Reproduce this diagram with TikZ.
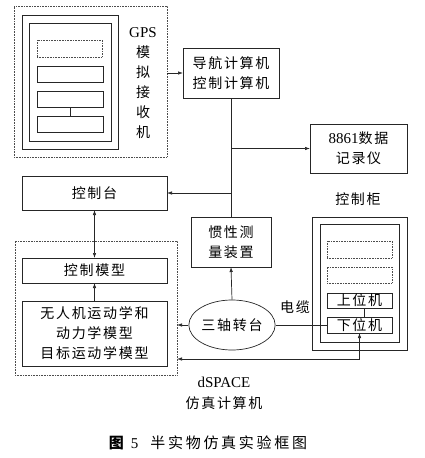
\documentclass[tikz,border=0pt]{standalone}
\usepackage{fontspec}
\setmainfont{Liberation Serif}
\newfontfamily\cjk[LetterSpace=12]{Noto Sans CJK SC}
\newfontfamily\cjkcap[LetterSpace=18]{Noto Sans CJK SC}
\usetikzlibrary{arrows.meta,shapes.geometric}
\begin{document}
\begin{tikzpicture}[x=1pt,y=-1pt,
  ln/.style={line width=0.7pt,draw=black!85},
  box/.style={ln,rectangle,inner sep=0pt,outer sep=0pt,align=center,
     font=\cjk\fontsize{14}{20}\selectfont},
  dbox/.style={draw=black!70,densely dotted,line width=0.6pt,rectangle,inner sep=0pt,outer sep=0pt},
  sz/.style n args={2}{minimum width=#1pt,minimum height=#2pt},
  arr/.style={ln,-{Latex[length=5pt,width=3.5pt]}},
  darr/.style={ln,{Latex[length=5pt,width=3.5pt]}-{Latex[length=5pt,width=3.5pt]}},
  lbl/.style={align=center,inner sep=0pt,font=\cjk\fontsize{14}{20}\selectfont}]
\useasboundingbox (0,0) rectangle (424,458);
% GPS receiver
\node[dbox,sz={153}{151}] (gpsouter) at (90.5,81.5) {};
\node[box,sz={96}{134}] (gps1) at (70,82) {};
\node[box,sz={82}{118}] (gps2) at (70,82) {};
\node[dbox,sz={65}{17}] (gpsd) at (69.5,48.5) {};
\node[box,sz={66}{16}] (gpsa) at (70,74) {};
\node[box,sz={66}{16}] (gpsb) at (70,99) {};
\node[box,sz={66}{16}] (gpsc) at (70,124) {};
\draw[ln] (gpsb.south) -- (gpsc.north);
\node[lbl] (gpslbl) at (143,83) {{\rmfamily\fontsize{15}{20}\selectfont GPS}\\模\\拟\\接\\收\\机};
% navigation computer
\node[box,sz={96}{50}] (nav) at (231,73) {导航计算机\\控制计算机};
\node[box,sz={97}{49}] (rec) at (358.5,148.5) {{\rmfamily\fontsize{15}{20}\selectfont 8861}数据\\记录仪};
\node[box,sz={80}{50}] (imu) at (231,242) {惯性测\\量装置};
\node[box,sz={145}{34}] (console) at (94.5,193) {控制台};
% dSPACE
\node[dbox,sz={162}{134}] (dspace) at (96,308) {};
\node[box,sz={145}{25}] (ctrl) at (94.5,270.5) {控制模型};
\node[box,sz={145}{65}] (uav) at (94.5,333.5) {无人机运动学和\\动力学模型\\目标运动学模型};
\node[ln,ellipse,inner sep=0pt,minimum width=80pt,minimum height=50pt,
      font=\cjk\fontsize{14}{20}\selectfont] (tt) at (232,325) {三轴转台};
% control cabinet
\node[box,sz={95}{133}] (cabout) at (359.5,283.5) {};
\node[box,sz={79}{118}] (cabin) at (359.5,283) {};
\node[dbox,sz={65}{17}] (cd1) at (359.5,249.5) {};
\node[dbox,sz={65}{16}] (cd2) at (359.5,275) {};
\node[box,sz={65}{15}] (upper) at (359.5,300.5) {上位机};
\node[box,sz={65}{16}] (lower) at (359.5,325) {下位机};
\draw[ln] ([xshift=4.5pt]upper.south) -- ([xshift=4.5pt]lower.north);
% labels
\node[lbl] (cab) at (358,199) {控制柜};
\node[lbl] (cable) at (295,307) {电缆};
\node[lbl] (dsl) at (224,382) {{\rmfamily\fontsize{15}{20}\selectfont dSPACE}};
\node[lbl] (dsl2) at (224,403) {仿真计算机};
\node[lbl,font=\cjkcap\fontsize{15}{20}\selectfont] (cap) at (208,443) {{\bfseries 图}\hspace{7pt}{\rmfamily 5}\hspace{12pt}半实物仿真实验框图};
% connectors
\draw[arr] (gpsouter.east |- nav.west) -- (nav.west);
\draw[ln] (nav.south) -- (imu.north);
\coordinate (j1) at (nav.south |- rec.west);
\coordinate (j2) at (nav.south |- console.east);
\draw[arr] (j1) -- (rec.west);
\draw[arr] (j2) -- (console.east);
\draw[darr] (console.south) -- (ctrl.north);
\draw[arr] (uav.north) -- (ctrl.south);
\draw[arr] (tt.north) -- (imu.south);
\draw[arr] (tt.west) -- (dspace.east |- tt.west);
\draw[ln] (tt.east) -- (lower.west);
\coordinate (b1) at (359.5,359);
\draw[darr] (dspace.east |- b1) -- (b1) -- (lower.south);
\end{tikzpicture}
\end{document}
